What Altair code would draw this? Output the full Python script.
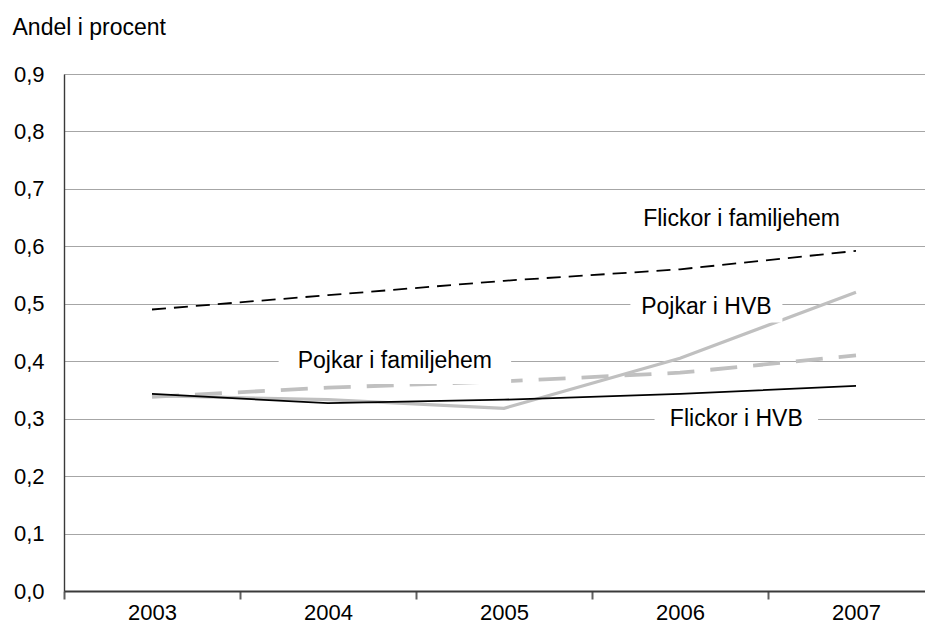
import altair as alt
import pandas as pd

years = [2003, 2004, 2005, 2006, 2007]
flickor_familjehem = [0.49, 0.515, 0.540, 0.560, 0.592]
pojkar_hvb = [0.340, 0.333, 0.318, 0.405, 0.520]
pojkar_familjehem = [0.338, 0.354, 0.365, 0.380, 0.410]
flickor_hvb = [0.343, 0.327, 0.333, 0.343, 0.357]

series_names = ["Flickor i familjehem", "Pojkar i HVB", "Pojkar i familjehem", "Flickor i HVB"]
series_values = [flickor_familjehem, pojkar_hvb, pojkar_familjehem, flickor_hvb]

label_text = ["Flickor i familjehem", "Pojkar i HVB", "Pojkar i familjehem", "Flickor i HVB"]
label_x = [2006.35, 2006.15, 2004.38, 2006.32]
label_y = [0.648, 0.494, 0.401, 0.299]

y_ticks = [0.0, 0.1, 0.2, 0.3, 0.4, 0.5, 0.6, 0.7, 0.8, 0.9]
x_boundaries = [2002.5, 2003.5, 2004.5, 2005.5, 2006.5]

rows = []
for name, vals in zip(series_names, series_values):
    for yr, v in zip(years, vals):
        rows.append({"year": yr, "value": v, "series": name})
df = pd.DataFrame(rows)

lab = pd.DataFrame({"text": label_text, "x": label_x, "y": label_y})
lab["w"] = lab["text"].str.len() * 11.5 + 14

FONT = "Liberation Sans"
FS = 22
FS_LAB = 23
W, H = 861, 517
XDOM = [2002.5, 2002.5 + W / 176.0]

xscale = alt.Scale(domain=XDOM, nice=False, zero=False)
yscale = alt.Scale(domain=[0, 0.9], nice=False)

styles = {
    "Flickor i familjehem": dict(color="#000000", strokeWidth=1.8, strokeDash=[14, 8]),
    "Pojkar i HVB": dict(color="#c0c0c0", strokeWidth=3.2),
    "Pojkar i familjehem": dict(color="#c0c0c0", strokeWidth=3.8, strokeDash=[27, 16]),
    "Flickor i HVB": dict(color="#000000", strokeWidth=1.8),
}

# y axis with grid
grid = alt.Chart(pd.DataFrame({"v": y_ticks})).mark_rule(opacity=0).encode(
    y=alt.Y("v:Q", scale=yscale,
            axis=alt.Axis(values=y_ticks, grid=True, gridColor="#a6a6a6", gridWidth=1.2,
                          ticks=False, domain=True, domainColor="#3a3a3a", domainWidth=1.4,
                          orient="left",
                          labelExpr="replace(format(datum.value, '.1f'), '.', ',')",
                          labelFont=FONT, labelFontSize=FS, labelColor="#000000", labelPadding=20,
                          title="Andel i procent", titleFont=FONT, titleFontSize=FS_LAB,
                          titleFontWeight="normal", titleAngle=0, titleAlign="left",
                          titleBaseline="middle", titleX=-52, titleY=-47, titleColor="#000000")),
)

# x axis: ticks at category boundaries
xaxis_ticks = alt.Chart(pd.DataFrame({"b": x_boundaries})).mark_rule(opacity=0).encode(
    x=alt.X("b:Q", scale=xscale,
            axis=alt.Axis(values=x_boundaries, labels=False, grid=False, ticks=True,
                          orient="bottom",
                          tickSize=8, tickWidth=2, tickColor="#606060",
                          domain=True, domainColor="#3a3a3a", domainWidth=2.2, title=None)),
)

# x axis: year labels at category centres
xaxis_labels = alt.Chart(pd.DataFrame({"yr": years})).mark_rule(opacity=0).encode(
    x=alt.X("yr:Q", scale=xscale,
            axis=alt.Axis(values=years, format="d", ticks=False, grid=False, domain=False,
                          orient="bottom",
                          labelFont=FONT, labelFontSize=FS, labelColor="#000000",
                          labelPadding=11, labelBaseline="top", title=None)),
)

lines = []
for name in series_names:
    st = styles[name]
    lines.append(
        alt.Chart(df[df.series == name]).mark_line(**st).encode(
            x=alt.X("year:Q", scale=xscale, axis=None),
            y=alt.Y("value:Q", scale=yscale, axis=None),
        )
    )

boxes = alt.Chart(lab).transform_calculate(w2="datum.w*datum.w").mark_point(
    shape="M-1,-0.2L1,-0.2L1,0.2L-1,0.2Z", filled=True, color="white", opacity=1, strokeWidth=0
).encode(
    x=alt.X("x:Q", scale=xscale, axis=None),
    y=alt.Y("y:Q", scale=yscale, axis=None),
    size=alt.Size("w2:Q", scale=None, legend=None),
)

texts = alt.Chart(lab).mark_text(font=FONT, fontSize=FS_LAB, color="#000000", baseline="middle",
                                 align="center").encode(
    x=alt.X("x:Q", scale=xscale, axis=None),
    y=alt.Y("y:Q", scale=yscale, axis=None),
    text="text:N",
)

chart = alt.layer(grid, xaxis_ticks, xaxis_labels, *lines, boxes, texts).resolve_axis(
    x="independent", y="independent"
).properties(
    width=W, height=H,
    autosize=alt.AutoSizeParams(type="none"),
    padding={"left": 56, "top": 66, "right": 0, "bottom": 45},
).configure_view(strokeWidth=0).configure(background="white")

chart.save("out.html", embed_options={"renderer": "svg", "actions": False})
